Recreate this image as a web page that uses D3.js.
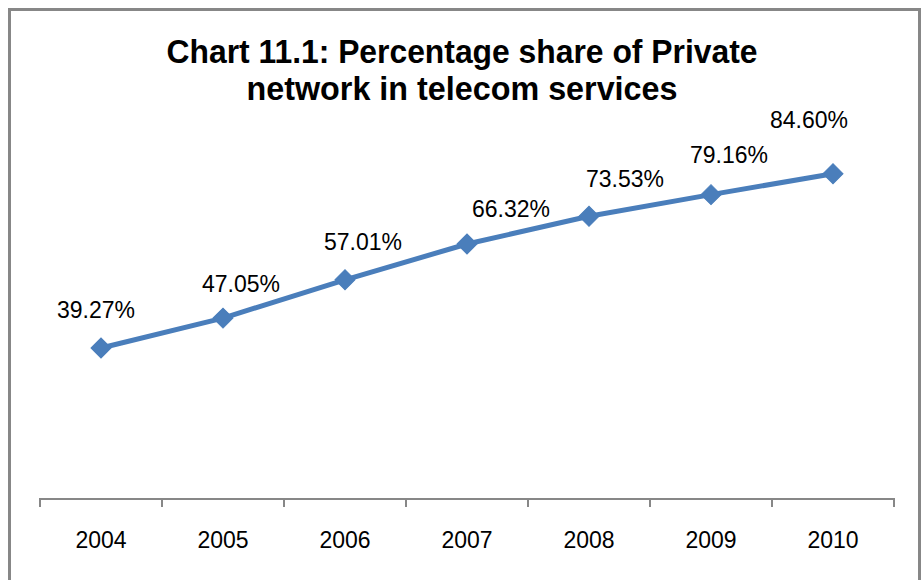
<!DOCTYPE html>
<html>
<head>
<meta charset="utf-8">
<script src="https://cdn.jsdelivr.net/npm/d3@7"></script>
<style>
  html, body { margin: 0; padding: 0; background: #fff; }
  svg { display: block; }
</style>
</head>
<body>
<svg id="chart" width="923" height="580"></svg>
<script>
// Chart data
const years = ["2004", "2005", "2006", "2007", "2008", "2009", "2010"];
const privateShare = [39.27, 47.05, 57.01, 66.32, 73.53, 79.16, 84.60];
const titleLines = ["Chart 11.1: Percentage share of Private", "network in telecom services"];

// Hand-placed label nudges (px) relative to each point
const labelNudgeX = [-5, 18, 18, 44, 36, 18, -24];
const labelNudgeY = [-38, -34, -38, -35, -37, -40, -54];
// Condensed title widths (px) for each line
const titleWidths = [591, 431];

const W = 923, H = 580;
const margin = { left: 40, right: 29, top: 114.5, bottom: 81 };
const svg = d3.select("#chart");

const lineColor = "#4a7ebb";
const axisColor = "#878787";
const font = "'Liberation Sans', Arial, sans-serif";

// Outer frame
svg.append("rect")
  .attr("x", 9.5).attr("y", 9.5)
  .attr("width", 910).attr("height", 580)
  .attr("fill", "none")
  .attr("stroke", axisColor)
  .attr("stroke-width", 3);

const x = d3.scaleBand()
  .domain(years)
  .range([margin.left, W - margin.right]);

const y = d3.scaleLinear()
  .domain([0, 100])
  .range([H - margin.bottom, margin.top]);

// Title, two condensed bold lines
svg.selectAll("text.title")
  .data(titleLines)
  .join("text")
  .attr("class", "title")
  .attr("x", 462)
  .attr("y", (d, i) => 63 + i * 37)
  .attr("text-anchor", "middle")
  .attr("font-family", font)
  .attr("font-weight", "bold")
  .attr("font-size", 34)
  .attr("textLength", (d, i) => titleWidths[i])
  .attr("lengthAdjust", "spacingAndGlyphs")
  .attr("fill", "#000")
  .text(d => d);

// X axis: category boundaries carry the tick marks
const axisY = y(0);
const g = svg.append("g");
g.append("line")
  .attr("x1", x.range()[0]).attr("x2", x.range()[1])
  .attr("y1", axisY).attr("y2", axisY)
  .attr("stroke", axisColor).attr("stroke-width", 2);

const boundaries = years.map(d => x(d)).concat([x.range()[1]]);
g.selectAll("line.tick")
  .data(boundaries)
  .join("line")
  .attr("class", "tick")
  .attr("x1", d => d).attr("x2", d => d)
  .attr("y1", axisY - 1).attr("y2", axisY + 8)
  .attr("stroke", axisColor).attr("stroke-width", 2);

g.selectAll("text.year")
  .data(years)
  .join("text")
  .attr("class", "year")
  .attr("x", d => x(d) + x.bandwidth() / 2)
  .attr("y", 548)
  .attr("text-anchor", "middle")
  .attr("font-family", font)
  .attr("font-size", 23)
  .attr("fill", "#000")
  .text(d => d);

// Series line
const pts = years.map((d, i) => [x(d) + x.bandwidth() / 2, y(privateShare[i])]);
svg.append("path")
  .datum(pts)
  .attr("d", d3.line())
  .attr("fill", "none")
  .attr("stroke", lineColor)
  .attr("stroke-width", 5)
  .attr("stroke-linejoin", "round");

// Diamond markers
const diamond = d3.symbol().type(d3.symbolSquare).size(200);
svg.selectAll("path.marker")
  .data(pts)
  .join("path")
  .attr("class", "marker")
  .attr("d", diamond)
  .attr("transform", d => `translate(${d[0]},${d[1]}) rotate(45)`)
  .attr("fill", lineColor)
  .attr("stroke", lineColor)
  .attr("stroke-width", 1);

// Value labels
svg.selectAll("text.value")
  .data(pts)
  .join("text")
  .attr("class", "value")
  .attr("x", (d, i) => d[0] + labelNudgeX[i])
  .attr("y", (d, i) => d[1] + labelNudgeY[i] + 8)
  .attr("text-anchor", "middle")
  .attr("font-family", font)
  .attr("font-size", 23)
  .attr("fill", "#000")
  .text((d, i) => privateShare[i].toFixed(2) + "%");
</script>
</body>
</html>
